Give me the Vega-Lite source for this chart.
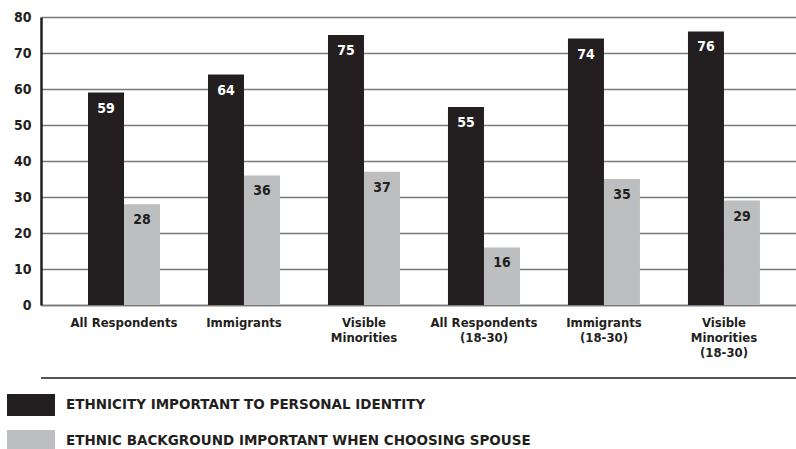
{
  "$schema": "https://vega.github.io/schema/vega-lite/v6.json",
  "width": 755,
  "height": 288,
  "autosize": {"type": "none"},
  "padding": {"left": 41, "top": 17, "right": 0, "bottom": 144},
  "background": "white",
  "config": {
    "view": {"stroke": null},
    "font": "DejaVu Sans Condensed",
    "axis": {"labelFont": "DejaVu Sans Condensed", "labelFontWeight": "bold", "labelColor": "#231f20"}
  },
  "data": {
    "values": [
      {"cat": "All Respondents", "series": "ETHNICITY IMPORTANT TO PERSONAL IDENTITY", "value": 59},
      {"cat": "All Respondents", "series": "ETHNIC BACKGROUND IMPORTANT WHEN CHOOSING SPOUSE", "value": 28},
      {"cat": "Immigrants", "series": "ETHNICITY IMPORTANT TO PERSONAL IDENTITY", "value": 64},
      {"cat": "Immigrants", "series": "ETHNIC BACKGROUND IMPORTANT WHEN CHOOSING SPOUSE", "value": 36},
      {"cat": "Visible Minorities", "series": "ETHNICITY IMPORTANT TO PERSONAL IDENTITY", "value": 75},
      {"cat": "Visible Minorities", "series": "ETHNIC BACKGROUND IMPORTANT WHEN CHOOSING SPOUSE", "value": 37},
      {"cat": "All Respondents (18-30)", "series": "ETHNICITY IMPORTANT TO PERSONAL IDENTITY", "value": 55},
      {"cat": "All Respondents (18-30)", "series": "ETHNIC BACKGROUND IMPORTANT WHEN CHOOSING SPOUSE", "value": 16},
      {"cat": "Immigrants (18-30)", "series": "ETHNICITY IMPORTANT TO PERSONAL IDENTITY", "value": 74},
      {"cat": "Immigrants (18-30)", "series": "ETHNIC BACKGROUND IMPORTANT WHEN CHOOSING SPOUSE", "value": 35},
      {"cat": "Visible Minorities (18-30)", "series": "ETHNICITY IMPORTANT TO PERSONAL IDENTITY", "value": 76},
      {"cat": "Visible Minorities (18-30)", "series": "ETHNIC BACKGROUND IMPORTANT WHEN CHOOSING SPOUSE", "value": 29}
    ]
  },
  "encoding": {
    "y": {
      "field": "value",
      "type": "quantitative",
      "scale": {"domain": [0, 80], "nice": false},
      "axis": {
        "title": null,
        "values": [0, 10, 20, 30, 40, 50, 60, 70, 80],
        "labelFontSize": 14,
        "labelPadding": 10,
        "ticks": false,
        "domainColor": "#231f20",
        "domainWidth": 2.5,
        "gridColor": "#7a7a7a",
        "gridWidth": 1.5,
        "gridOpacity": 1
      }
    }
  },
  "layer": [
    {
      "mark": {"type": "bar"},
      "encoding": {
        "x": {
          "field": "cat",
          "type": "nominal",
          "sort": ["All Respondents", "Immigrants", "Visible Minorities", "All Respondents (18-30)", "Immigrants (18-30)", "Visible Minorities (18-30)"],
          "scale": {"paddingInner": 0.4, "paddingOuter": 0.346, "align": 0.566},
          "axis": {
            "title": null,
            "labelAngle": 0,
            "labelFontSize": 13,
            "labelPadding": 11,
            "ticks": false,
            "domainColor": "#7a7a7a",
            "domainWidth": 1.5,
            "labelLineHeight": 15,
            "labelExpr": "datum.value == 'Visible Minorities' ? ['Visible','Minorities'] : datum.value == 'All Respondents (18-30)' ? ['All Respondents','(18-30)'] : datum.value == 'Immigrants (18-30)' ? ['Immigrants','(18-30)'] : datum.value == 'Visible Minorities (18-30)' ? ['Visible','Minorities','(18-30)'] : datum.value"
          }
        },
        "xOffset": {
          "field": "series",
          "type": "nominal",
          "sort": ["ETHNICITY IMPORTANT TO PERSONAL IDENTITY", "ETHNIC BACKGROUND IMPORTANT WHEN CHOOSING SPOUSE"]
        },
        "color": {
          "field": "series",
          "type": "nominal",
          "scale": {
            "domain": ["ETHNICITY IMPORTANT TO PERSONAL IDENTITY", "ETHNIC BACKGROUND IMPORTANT WHEN CHOOSING SPOUSE"],
            "range": ["#231f20", "#bcbec0"]
          },
          "legend": {
            "title": null,
            "orient": "none",
            "legendX": -34,
            "legendY": 364,
            "direction": "vertical",
            "padding": 0,
            "symbolType": "M-1,-0.46H1V0.46H-1Z",
            "symbolSize": 2304,
            "symbolStrokeWidth": 0,
            "symbolOpacity": 1,
            "labelFont": "DejaVu Sans",
            "labelFontWeight": "bold",
            "labelFontSize": 13.5,
            "labelColor": "#231f20",
            "labelOffset": 11,
            "rowPadding": -15,
            "labelLimit": 700
          }
        }
      }
    },
    {
      "mark": {"type": "text", "baseline": "middle", "dy": 16, "fontSize": 14, "fontWeight": "bold", "font": "DejaVu Sans Condensed"},
      "encoding": {
        "x": {
          "field": "cat",
          "type": "nominal",
          "sort": ["All Respondents", "Immigrants", "Visible Minorities", "All Respondents (18-30)", "Immigrants (18-30)", "Visible Minorities (18-30)"]
        },
        "xOffset": {
          "field": "series",
          "type": "nominal",
          "sort": ["ETHNICITY IMPORTANT TO PERSONAL IDENTITY", "ETHNIC BACKGROUND IMPORTANT WHEN CHOOSING SPOUSE"]
        },
        "text": {"field": "value", "type": "quantitative"},
        "color": {
          "condition": {"test": "datum.series === 'ETHNICITY IMPORTANT TO PERSONAL IDENTITY'", "value": "white"},
          "value": "#231f20"
        }
      }
    },
    {
      "mark": {"type": "rule", "color": "#555555", "strokeWidth": 1.5},
      "encoding": {"y": {"datum": -20.3}}
    }
  ]
}
